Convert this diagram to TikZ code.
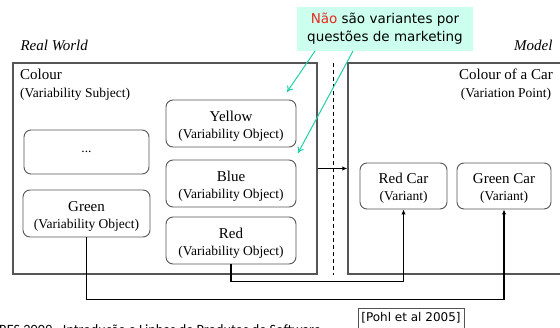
\documentclass[tikz,border=0pt]{standalone}
\usepackage{fontspec}
\setmainfont{Liberation Serif}
\newfontfamily\notefont{DejaVu Sans}
\newfontfamily\footfont{Carlito}
\usetikzlibrary{arrows.meta}
\definecolor{boxline}{RGB}{85,85,85}
\definecolor{calloutfill}{RGB}{204,255,238}
\definecolor{calloutline}{RGB}{32,208,168}
\definecolor{notered}{RGB}{230,40,30}
% first line of a box label: larger size, with a little extra room above
\newcommand\boxhead[1]{{\fontsize{15}{18}\selectfont\rule{0pt}{15.5pt}#1}}
\tikzset{
  area/.style={draw=boxline, line width=1.4pt, minimum width=#1, minimum height=211, inner sep=0},
  vobj/.style={draw=boxline, line width=0.9pt, rounded corners=7, align=center, inner sep=0,
    minimum height=47, minimum width=#1, font=\fontsize{13.5}{17}\selectfont},
  caption/.style={inner sep=0, font=\fontsize{13.5}{18}\selectfont},
  conn/.style={draw=black, line width=1.2pt},
  tip/.style={-{Latex[length=5pt,width=4.5pt]}},
  note/.style={draw=calloutline, line width=1pt, -{To[length=6pt,width=7pt]}},
}
\begin{document}
\begin{tikzpicture}[x=1pt, y=-1pt]
\useasboundingbox (0,0) rectangle (560,327);

% headings of the two halves
\node[anchor=base west, font=\fontsize{15}{18}\selectfont\itshape] (rw) at (17,50) {Real World};
\node[anchor=base east, font=\fontsize{15}{18}\selectfont\itshape] (md) at (556,50) {Model};

% the two areas and the dashed divider
\node[area=304] (real) at (165,168.5) {};
\node[area=222] (model) at (459,168.5) {};
\coordinate (dtop) at (333,63);
\coordinate (dbot) at (333,275);
\draw[line width=1pt, dash pattern=on 4pt off 3pt] (dtop) -- (dbot);
\draw[conn, tip] (real.east) -- (model.west);

% area captions
\node[caption, anchor=north west, align=left] (subj) at (20,69)
  {{\fontsize{15}{18}\selectfont Colour}\\(Variability Subject)};
\node[caption, anchor=north east, align=center] (vp) at (553,69)
  {{\fontsize{15}{18}\selectfont Colour of a Car}\\(Variation Point)};

% variability objects
\node[vobj=130] (yellow) at (231,123.5) {\boxhead{Yellow}\\(Variability Object)};
\node[vobj=125, minimum height=44] (more) at (86.5,152) {...};
\node[vobj=130] (blue) at (231,183.5) {\boxhead{Blue}\\(Variability Object)};
\node[vobj=127] (green) at (86.5,213.5) {\boxhead{Green}\\(Variability Object)};
\node[vobj=130] (red) at (231,240.5) {\boxhead{Red}\\(Variability Object)};

% variants
\node[vobj=87, minimum height=46] (redcar) at (403.5,186) {\boxhead{Red Car}\\(Variant)};
\node[vobj=94, minimum height=46] (greencar) at (504,186) {\boxhead{Green Car}\\(Variant)};

% realisation links
\draw[conn, tip] (red.south) -- ++(0,17) -| (redcar.south);
\draw[conn, tip] (green.south) -- ++(0,62) -| (greencar.south);

% callout
\node[fill=calloutfill, minimum width=176, minimum height=44, inner sep=0, align=center,
  font=\notefont\fontsize{13.5}{18}\selectfont] (callout) at (385,29)
  {\textcolor{notered}{Não} são variantes por\\questões de marketing};
\coordinate (c1) at (315,51);
\coordinate (c2) at (353,51);
\coordinate (t1) at (287,92);
\coordinate (t2) at (298,153);
\draw[note] (c1) -- (t1);
\draw[note] (c2) -- (t2);

% reference and footer
\node[draw=boxline, line width=0.9pt, anchor=north, minimum width=106, minimum height=24,
  inner sep=0, text depth=8pt, font=\notefont\fontsize{12}{14}\selectfont] (ref) at (411,308) {[Pohl et al 2005]};
\node[anchor=base west, inner sep=0, font=\footfont\fontsize{14.2}{16}\selectfont] (foot) at (-1,334)
  {RES 2009 - Introdução a Linhas de Produtos de Software};
\end{tikzpicture}
\end{document}
